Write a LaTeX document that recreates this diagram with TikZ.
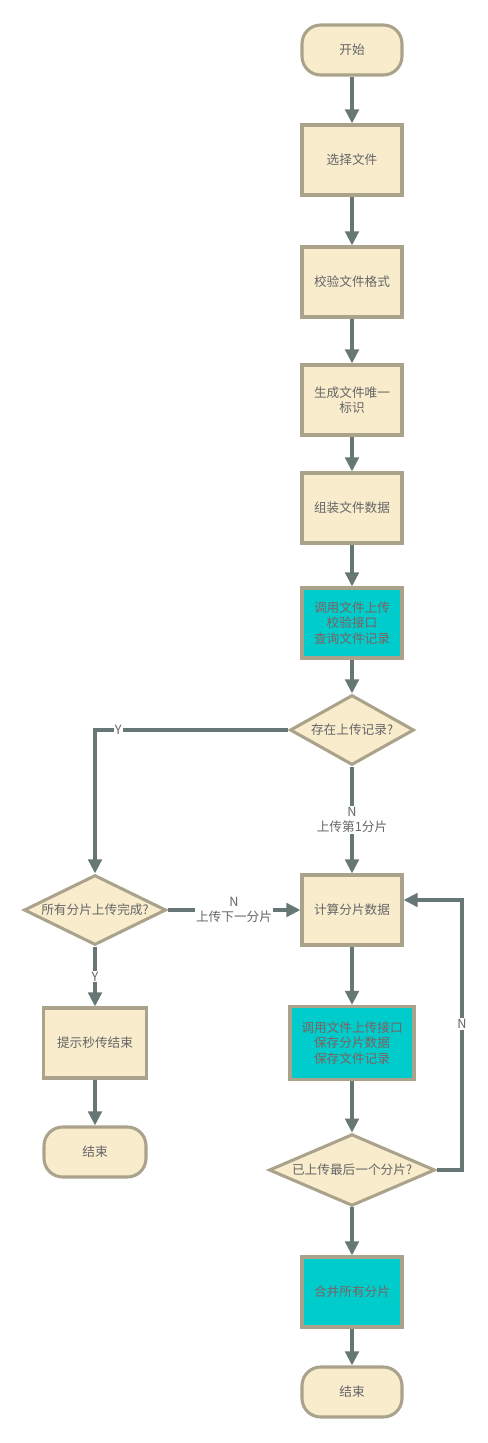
\documentclass[tikz,border=0pt]{standalone}
\usepackage{fontspec}
\setmainfont{Noto Sans CJK SC}
\usetikzlibrary{shapes.geometric,arrows.meta}
\definecolor{boxfill}{HTML}{F8ECCD}
\definecolor{boxline}{HTML}{AAA28A}
\definecolor{flowline}{HTML}{677775}
\definecolor{callfill}{HTML}{00CCCC}
\definecolor{calltext}{HTML}{806060}
\definecolor{labeltext}{HTML}{666666}
\tikzset{
  box/.style={draw=boxline, fill=boxfill, line width=2.3pt, minimum width=75pt, minimum height=52.5pt,
    align=center, text=labeltext, inner sep=0pt, font=\fontsize{9.5pt}{11.5pt}\selectfont},
  callbox/.style={box, fill=callfill, text=calltext},
  term/.style={box, minimum height=37.5pt, rounded corners=14pt},
  choice/.style={box, diamond, aspect=2, minimum height=52.5pt},
  flow/.style={draw=flowline, line width=3pt, -{Triangle[length=10.5pt,width=10pt]}},
  tag/.style={fill=white, text=labeltext, align=center, inner sep=1pt, font=\fontsize{9.5pt}{11.5pt}\selectfont}
}
\begin{document}
\begin{tikzpicture}[x=0.75pt,y=-0.75pt]
    \useasboundingbox (0,0) rectangle (487,1443);
    % main column
    \node[term] (start) at (352,50) {开始};
    \node[box] (pick) at (352,160) {选择文件};
    \node[box] (check) at (352,282) {校验文件格式};
    \node[box] (ident) at (352,400) {生成文件唯一\\标识};
    \node[box] (pack) at (352,508) {组装文件数据};
    \node[callbox] (query) at (352,623) {调用文件上传\\校验接口\\查询文件记录};
    \node[choice, minimum width=93pt] (exist) at (352,730) {存在上传记录?};
    \node[box] (calc) at (352,910) {计算分片数据};
    \node[callbox, minimum width=93pt, minimum height=54.75pt] (save) at (352,1043) {调用文件上传接口\\保存分片数据\\保存文件记录};
    \node[choice, minimum width=124.5pt] (last) at (352,1170) {已上传最后一个分片?};
    \node[callbox] (merge) at (352,1292) {合并所有分片};
    \node[term] (done) at (352,1392) {结束};
    % left column
    \node[choice, minimum width=106.5pt] (alldone) at (95,910) {所有分片上传完成?};
    \node[box, minimum width=77pt] (quick) at (95,1043) {提示秒传结束};
    \node[term, minimum width=76.5pt] (quickend) at (95,1152) {结束};
    \coordinate (back) at (462,900);
    % connectors
    \draw[flow] (start) -- (pick);\draw[flow] (pick) -- (check);
    \draw[flow] (check) -- (ident);\draw[flow] (ident) -- (pack);
    \draw[flow] (pack) -- (query);\draw[flow] (query) -- (exist);
    \draw[flow] (exist.west) -| node[tag, pos=0.44] {Y} (alldone.north);
    \draw[flow] (exist.south) -- node[tag] {N\\上传第1分片} (calc.north);
    \draw[flow] (alldone.east) -- node[tag] {N\\上传下一分片} (calc.west);
    \draw[flow] (alldone.south) -- node[tag] {Y} (quick.north);
    \draw[flow] (quick) -- (quickend);
    \draw[flow] (calc) -- (save);\draw[flow] (save) -- (last);
    \draw[flow] (last.east) -| node[tag, pos=0.77] {N} (back) -- (back -| calc.east);
    \draw[flow] (last) -- (merge);\draw[flow] (merge) -- (done);
\end{tikzpicture}
\end{document}
